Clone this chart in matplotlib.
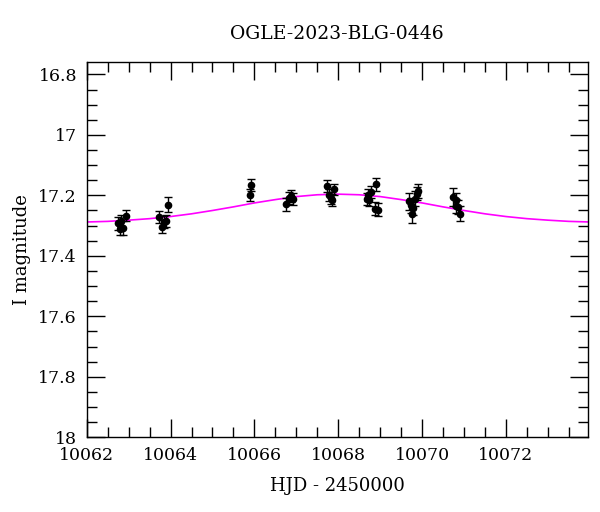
import matplotlib
matplotlib.use("Agg")
import matplotlib.pyplot as plt
from matplotlib.ticker import MultipleLocator, FuncFormatter

# photometry (HJD - 2450000, I mag, error)
hjd = [10062.75, 10062.79, 10062.83, 10062.87, 10062.93,
       10063.72, 10063.79, 10063.85, 10063.89, 10063.95,
       10065.89, 10065.93,
       10066.75, 10066.82, 10066.87, 10066.93,
       10067.72, 10067.78, 10067.83, 10067.84, 10067.90,
       10068.68, 10068.71, 10068.73, 10068.78, 10068.87, 10068.91, 10068.94,
       10069.69, 10069.73, 10069.75, 10069.79, 10069.83, 10069.87, 10069.91,
       10070.74, 10070.80, 10070.82, 10070.86, 10070.90]
mag = [17.293, 17.310, 17.286, 17.308, 17.267,
       17.273, 17.304, 17.288, 17.286, 17.231,
       17.200, 17.167,
       17.230, 17.209, 17.202, 17.213,
       17.170, 17.200, 17.209, 17.216, 17.180,
       17.211, 17.200, 17.216, 17.189, 17.244, 17.164, 17.247,
       17.219, 17.233, 17.263, 17.242, 17.211, 17.194, 17.186,
       17.205, 17.216, 17.235, 17.238, 17.260]
err = [0.020, 0.022, 0.020, 0.022, 0.018,
       0.020, 0.022, 0.020, 0.020, 0.024,
       0.020, 0.020,
       0.022, 0.020, 0.020, 0.020,
       0.020, 0.020, 0.020, 0.020, 0.018,
       0.020, 0.020, 0.020, 0.020, 0.022, 0.020, 0.022,
       0.028, 0.024, 0.029, 0.022, 0.024, 0.022, 0.022,
       0.030, 0.024, 0.024, 0.024, 0.024]

# model curve
model_t = [10062.0, 10062.5, 10063.0, 10063.5, 10064.0, 10064.5, 10065.0, 10065.5,
           10066.0, 10066.5, 10067.0, 10067.5, 10068.0, 10068.5, 10069.0, 10069.5,
           10070.0, 10070.5, 10071.0, 10071.5, 10072.0, 10072.5, 10073.0, 10073.5,
           10074.0]
model_m = [17.288, 17.286, 17.282, 17.277, 17.270, 17.261, 17.250, 17.238,
           17.225, 17.214, 17.204, 17.198, 17.196, 17.198, 17.204, 17.214,
           17.225, 17.238, 17.250, 17.261, 17.270, 17.277, 17.282, 17.286,
           17.288]

plt.rcParams['font.family'] = ['DejaVu Serif']
plt.rcParams['font.size'] = 12.5

fig = plt.figure(figsize=(6, 5.12), dpi=100)
ax = fig.add_axes([0.1445, 0.1459, 0.835, 0.7324])

ax.plot(model_t, model_m, color='#ff00ff', lw=1.2, zorder=1)
ax.errorbar(hjd, mag, yerr=err, fmt='o', color='black', ms=4.5,
            elinewidth=1.0, capsize=3, capthick=1.0, zorder=2)

ax.set_xlim(10062, 10073.95)
ax.set_ylim(18, 16.76)

ax.xaxis.set_major_locator(MultipleLocator(2))
ax.xaxis.set_minor_locator(MultipleLocator(0.5))
ax.yaxis.set_major_locator(MultipleLocator(0.2))
ax.yaxis.set_minor_locator(MultipleLocator(0.05))
ax.yaxis.set_major_formatter(FuncFormatter(lambda v, p: f"{v:g}"))

ax.tick_params(which='both', direction='in', top=True, right=True, width=1.0)
ax.tick_params(which='major', length=13, pad=7)
ax.tick_params(which='minor', length=7)
for s in ax.spines.values():
    s.set_linewidth(1.0)

ax.set_title("OGLE-2023-BLG-0446", pad=17, fontsize=13.5)
ax.set_xlabel("HJD - 2450000", labelpad=9, fontsize=13)
ax.set_ylabel("I magnitude", labelpad=5, fontsize=13)

fig.savefig("out.png", dpi=100)
